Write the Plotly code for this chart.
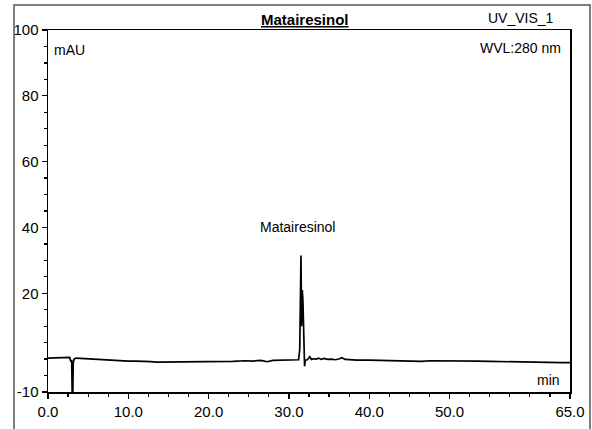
import plotly.graph_objects as go

time_min = [0.0, 0.8, 1.6, 2.3, 2.7, 2.85, 2.95, 3.02, 3.08, 3.14, 3.25, 3.5, 4.2, 5.0,
            6.0, 7.0, 8.0, 9.0, 10.0, 11.0, 12.0, 12.8, 13.5, 15.0, 17.0, 19.0, 21.0,
            23.0, 24.5, 25.5, 26.5, 27.3, 28.0, 29.0, 30.0, 30.8, 31.2, 31.35, 31.5,
            31.58, 31.66, 31.74, 31.85, 31.95, 32.05, 32.3, 32.6, 32.8, 33.1, 33.4,
            33.7, 34.0, 34.4, 34.8, 35.3, 35.8, 36.3, 36.6, 37.0, 37.6, 38.5, 40.0,
            41.5, 43.0, 44.5, 45.5, 46.5, 47.5, 48.5, 49.5, 50.5, 51.5, 52.5, 53.5,
            55.0, 56.5, 58.0, 59.0, 60.0, 61.0, 62.0, 63.0, 64.0, 65.0]
signal_mau = [0.3, 0.3, 0.4, 0.3, 0.5, -0.8, -0.2, -12.0, -12.0, -1.2, 0.0, 0.3, 0.2, 0.1,
              -0.1, -0.3, -0.5, -0.5, -0.6, -0.6, -0.6, -0.8, -0.9, -0.9, -0.9, -0.8, -0.8,
              -0.7, -0.5, -0.6, -0.4, -0.8, -0.4, -0.3, -0.3, -0.3, -0.2, 3.0, 31.5,
              10.0, 21.0, 18.0, 0.5, -2.2, -0.3, -0.2, 0.7, -0.1, 0.1, 0.0,
              0.3, -0.1, 0.2, -0.1, 0.0, -0.2, 0.1, 0.4, -0.1, -0.2, -0.3, -0.3,
              -0.4, -0.4, -0.6, -0.5, -0.7, -0.5, -0.5, -0.4, -0.5, -0.6, -0.4, -0.6,
              -0.7, -0.8, -0.8, -0.9, -1.0, -0.9, -1.1, -1.1, -1.1, -1.1]

x_tickvals = [0, 10, 20, 30, 40, 50, 65]
x_ticktext = ["0.0", "10.0", "20.0", "30.0", "40.0", "50.0", "65.0"]
y_tickvals = [-10, 20, 40, 60, 80, 100]
y_ticktext = ["-10", "20", "40", "60", "80", "100"]

peak_name = "Matairesinol"
peak_time = 31.5
peak_height = 31.5

FONT = "Liberation Sans, Arial, sans-serif"

fig = go.Figure()
fig.add_trace(go.Scatter(x=time_min, y=signal_mau, mode="lines",
                         line=dict(color="black", width=1.7), showlegend=False,
                         hoverinfo="skip"))

axis_common = dict(showline=True, linecolor="black", linewidth=1.5, mirror=True,
                   showgrid=False, zeroline=False, ticks="outside", ticklen=5,
                   tickcolor="black", tickwidth=1.2, automargin=False,
                   ticklabeloverflow="allow",
                   tickfont=dict(family=FONT, size=15, color="black"))

fig.update_xaxes(range=[0, 65], tickmode="array", tickvals=x_tickvals, ticktext=x_ticktext,
                 minor=dict(tickmode="linear", tick0=0, dtick=2.5, ticks="outside",
                            ticklen=3, tickcolor="black"),
                 **axis_common)
fig.update_yaxes(range=[-10, 100], tickmode="array", tickvals=y_tickvals, ticktext=y_ticktext,
                 minor=dict(tickmode="linear", tick0=0, dtick=5, ticks="outside",
                            ticklen=3, tickcolor="black"),
                 **axis_common)

# page pixel -> paper coordinates (plot area spans x 48..570, y 30..392 on the page)
def px_x(p):
    return (p - 48) / 522

def px_y(p):
    return (392 - p) / 362

annots = [
    dict(text="<b><u>Matairesinol</u></b>", x=px_x(305), y=px_y(20), size=15),
    dict(text="UV_VIS_1", x=px_x(521), y=px_y(18), size=14),
    dict(text="mAU", x=px_x(69), y=px_y(50), size=14),
    dict(text="WVL:280 nm", x=px_x(520), y=px_y(48), size=14),
    dict(text="min", x=px_x(548), y=px_y(380), size=14),
]
for a in annots:
    fig.add_annotation(text=a["text"], x=a["x"], y=a["y"], xref="paper", yref="paper",
                       showarrow=False, xanchor="center", yanchor="middle",
                       font=dict(family=FONT, size=a["size"], color="black"))

fig.add_annotation(text=peak_name, x=peak_time - 0.4, y=peak_height + 8.5, xref="x", yref="y",
                   showarrow=False, xanchor="center", yanchor="middle",
                   font=dict(family=FONT, size=14, color="black"))

# outer scanned frame
fig.add_shape(type="rect", xref="paper", yref="paper",
              x0=px_x(14), x1=px_x(590), y0=px_y(440), y1=px_y(5),
              line=dict(color="#555555", width=1.5))

fig.update_layout(width=592, height=429, margin=dict(l=48, r=22, t=30, b=37),
                  paper_bgcolor="white", plot_bgcolor="white")

fig.write_html("out.html", config={"displayModeBar": False, "staticPlot": True},
               post_script="document.body.style.margin='0';document.body.style.overflow='hidden';")
